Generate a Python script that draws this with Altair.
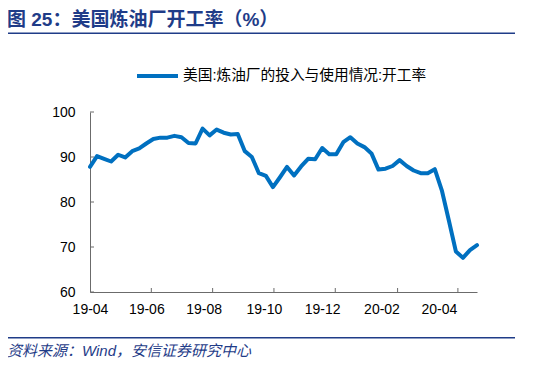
import altair as alt
import pandas as pd

# ---------------- data ----------------
start_date = "2019-04-12"  # first weekly observation
util_rate = [87.8, 90.2, 89.6, 89.0, 90.5, 89.9, 91.3, 91.9, 93.0, 94.0,
             94.3, 94.3, 94.7, 94.4, 93.1, 93.0, 96.3, 94.8, 96.1, 95.4,
             95.0, 95.1, 91.3, 90.0, 86.4, 85.8, 83.3, 85.5, 87.8, 85.9,
             87.9, 89.6, 89.5, 92.0, 90.6, 90.6, 93.3, 94.4, 93.0, 92.2,
             90.8, 87.2, 87.4, 88.0, 89.3, 88.0, 87.0, 86.4, 86.4, 87.3,
             82.6, 75.9, 69.0, 67.6, 69.3, 70.4]
series_name = "美国:炼油厂的投入与使用情况:开工率"

x_label_dates = ["2019-04-12", "2019-06-07", "2019-08-03", "2019-10-02",
                 "2019-11-29", "2020-01-27", "2020-03-24"]
x_labels = ["19-04", "19-06", "19-08", "19-10", "19-12", "20-02", "20-04"]
x_tick_dates = ["2019-06-12", "2019-08-12", "2019-10-12", "2019-12-12",
                "2020-02-12", "2020-04-12"]
y_ticks = [60, 70, 80, 90, 100]

title_text = "图 25：美国炼油厂开工率（%）"
source_text = "资料来源：Wind，安信证券研究中心"

# ---------------- helpers ----------------
dates = pd.date_range(start_date, periods=len(util_rate), freq="7D").strftime("%Y-%m-%d")
df = pd.DataFrame({"date": list(dates), "value": util_rate, "series": series_name})


def ms(d):
    return int(pd.Timestamp(d).tz_localize("UTC").timestamp() * 1000)


label_ms = [ms(d) for d in x_label_dates]
x_domain = [ms(dates[0]), ms(dates[-1])]
label_expr = "[" + ",".join("'%s'" % l for l in x_labels) + "][indexof([" + \
    ",".join(str(v) for v in label_ms) + "], +datum.value)]"

W, H = 387, 180
NAVY = "#1F3C88"
AXIS = "#6b6b6b"
LAT = "Liberation Sans, Arial, Noto Sans CJK SC"
CJK = "Liberation Sans, Noto Sans CJK SC"

x_scale = alt.Scale(type="utc", domain=x_domain)
y_scale = alt.Scale(domain=[60, 100], nice=False, zero=False)

line = alt.Chart(df).mark_line(strokeWidth=4, strokeCap="round", strokeJoin="round").encode(
    x=alt.X("date:T", scale=x_scale, title=None,
            axis=alt.Axis(values=label_ms, labelExpr=label_expr, ticks=False, grid=False,
                          domainColor=AXIS, domainWidth=1, labelFont=LAT, labelFontSize=14,
                          labelColor="#000000", labelPadding=10, labelFlush=False,
                          labelOverlap=False)),
    y=alt.Y("value:Q", scale=y_scale, title=None,
            axis=alt.Axis(values=y_ticks, ticks=False, grid=False, domainColor=AXIS,
                          domainWidth=1, labelFont=LAT, labelFontSize=14,
                          labelColor="#000000", labelPadding=15)),
    color=alt.Color("series:N",
                    scale=alt.Scale(domain=[series_name], range=["#0070C0"]),
                    legend=alt.Legend(title=None, orient="none", legendX=45, legendY=-58.5,
                                      symbolType="stroke", symbolSize=1681,
                                      symbolStrokeWidth=4, labelFont=CJK,
                                      labelFontSize=14.7, labelColor="#000000",
                                      labelOffset=3, padding=0, labelLimit=0)),
)

# inside tick marks
y_tick_df = pd.DataFrame({"v": y_ticks})
y_tick_marks = alt.Chart(y_tick_df).mark_rule(color=AXIS, strokeWidth=1).encode(
    y=alt.Y("v:Q", scale=y_scale), x=alt.value(0), x2=alt.value(4))

x_tick_df = pd.DataFrame({"d": x_tick_dates})
x_tick_marks = alt.Chart(x_tick_df).mark_rule(color=AXIS, strokeWidth=1).encode(
    x=alt.X("d:T", scale=x_scale), y=alt.value(H - 4), y2=alt.value(H))

# header / footer decoration
one = pd.DataFrame({"t": [title_text]})
title_mark = alt.Chart(one).mark_text(
    align="left", baseline="alphabetic", font=CJK, fontSize=19, fontWeight="bold",
    color=NAVY).encode(text="t:N", x=alt.value(-83), y=alt.value(-86.5))

src = pd.DataFrame({"t": [source_text]})
source_mark = alt.Chart(src).mark_text(
    align="left", baseline="alphabetic", font=CJK, fontSize=15, fontStyle="italic",
    color=NAVY).encode(text="t:N", x=alt.value(-83), y=alt.value(243.5))

top_rule = alt.Chart(one).mark_rule(color=NAVY, strokeWidth=1.5).encode(
    x=alt.value(-85), x2=alt.value(425), y=alt.value(-78.7))
bottom_rule = alt.Chart(src).mark_rule(color=NAVY, strokeWidth=1.5).encode(
    x=alt.value(-85), x2=alt.value(425), y=alt.value(225.7))

chart = alt.layer(
    line, y_tick_marks, x_tick_marks, title_mark, source_mark, top_rule, bottom_rule
).properties(
    width=W, height=H,
    autosize=alt.AutoSizeParams(type="none"),
    padding={"left": 82, "top": 104, "right": 60, "bottom": 67},
    background="white",
).configure_view(stroke=None)

chart.save("out.html", embed_options={"renderer": "svg", "actions": False})
